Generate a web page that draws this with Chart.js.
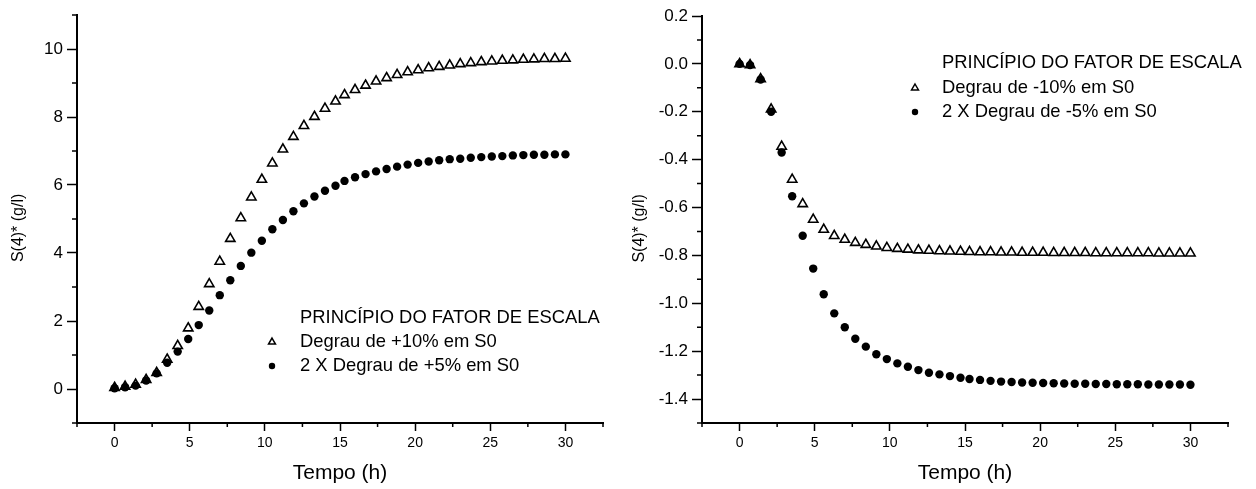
<!DOCTYPE html>
<html>
<head>
<meta charset="utf-8">
<script src="https://cdn.jsdelivr.net/npm/chart.js@4/dist/chart.umd.min.js"></script>
<style>
  html, body { margin: 0; padding: 0; background: #fff; }
  #wrap { display: flex; width: 1256px; height: 489px; }
  .box { position: relative; width: 628px; height: 489px; }
</style>
</head>
<body>
<div id="wrap">
  <div class="box"><canvas id="left"></canvas></div>
  <div class="box"><canvas id="right"></canvas></div>
</div>
<script>
// tempos de amostragem (h)
const times = [0, 0.7, 1.4, 2.1, 2.8, 3.5, 4.2, 4.9, 5.6, 6.3, 7.0, 7.7, 8.4, 9.1, 9.8,
  10.5, 11.2, 11.9, 12.6, 13.3, 14.0, 14.7, 15.3, 16.0, 16.7, 17.4, 18.1, 18.8, 19.5,
  20.2, 20.9, 21.6, 22.3, 23.0, 23.7, 24.4, 25.1, 25.8, 26.5, 27.2, 27.9, 28.6, 29.3, 30.0];

// grafico da esquerda: degrau positivo
const leftTri = [0.04, 0.07, 0.13, 0.27, 0.48, 0.87, 1.27, 1.79, 2.42, 3.09, 3.75, 4.42,
  5.03, 5.64, 6.16, 6.64, 7.05, 7.42, 7.74, 8.01, 8.25, 8.46, 8.65, 8.80, 8.93, 9.05,
  9.15, 9.24, 9.32, 9.38, 9.44, 9.48, 9.52, 9.56, 9.59, 9.62, 9.64, 9.66, 9.67, 9.69,
  9.70, 9.71, 9.71, 9.72];
const leftDot = [0.02, 0.05, 0.10, 0.25, 0.46, 0.77, 1.10, 1.47, 1.88, 2.31, 2.76, 3.20,
  3.62, 4.01, 4.36, 4.70, 4.97, 5.23, 5.46, 5.66, 5.83, 5.98, 6.12, 6.23, 6.32, 6.40,
  6.47, 6.54, 6.60, 6.65, 6.69, 6.73, 6.76, 6.77, 6.80, 6.82, 6.84, 6.85, 6.87, 6.88,
  6.89, 6.89, 6.90, 6.90];

// grafico da direita: degrau negativo
const rightTri = [0.0, -0.005, -0.063, -0.19, -0.345, -0.483, -0.585, -0.65, -0.692,
  -0.718, -0.734, -0.747, -0.755, -0.762, -0.768, -0.772, -0.775, -0.778, -0.780,
  -0.782, -0.783, -0.784, -0.785, -0.786, -0.786, -0.787, -0.787, -0.788, -0.788,
  -0.788, -0.789, -0.789, -0.789, -0.789, -0.790, -0.790, -0.790, -0.790, -0.790,
  -0.790, -0.791, -0.791, -0.791, -0.791];
const rightDot = [0.0, -0.005, -0.065, -0.20, -0.37, -0.553, -0.718, -0.855, -0.962,
  -1.042, -1.10, -1.148, -1.181, -1.213, -1.233, -1.251, -1.265, -1.279, -1.29, -1.297,
  -1.304, -1.311, -1.316, -1.320, -1.324, -1.327, -1.329, -1.331, -1.332, -1.333,
  -1.334, -1.335, -1.336, -1.336, -1.337, -1.337, -1.338, -1.338, -1.338, -1.339,
  -1.339, -1.339, -1.339, -1.340];

// marcas dos eixos
const xTicks = [0, 5, 10, 15, 20, 25, 30];
const xMinor = [-2.5, 2.5, 7.5, 12.5, 17.5, 22.5, 27.5, 32.5];
const leftYTicks = [0, 2, 4, 6, 8, 10];
const leftYMinor = [-1, 1, 3, 5, 7, 9, 11];
const rightYTicks = [0.2, 0.0, -0.2, -0.4, -0.6, -0.8, -1.0, -1.2, -1.4];
const rightYMinor = [0.1, -0.1, -0.3, -0.5, -0.7, -0.9, -1.1, -1.3, -1.5];

const legendTitle = 'PRINCÍPIO DO FATOR DE ESCALA';
const FONT = '"Liberation Sans", Arial, Helvetica, sans-serif';

// marcas secundarias (menores) nos eixos
const minorTicks = {
  id: 'minorTicks',
  afterDraw(chart, args, o) {
    const ctx = chart.ctx, sx = chart.scales.x, sy = chart.scales.y;
    ctx.save();
    ctx.strokeStyle = '#000';
    ctx.lineWidth = 1.5;
    ctx.beginPath();
    o.x.forEach(v => {
      const px = sx.getPixelForValue(v);
      ctx.moveTo(px, sx.top);
      ctx.lineTo(px, sx.top + 4);
    });
    o.y.forEach(v => {
      const py = sy.getPixelForValue(v);
      ctx.moveTo(sy.right, py);
      ctx.lineTo(sy.right - 5, py);
    });
    ctx.stroke();
    ctx.restore();
  }
};

// legenda desenhada dentro da area do grafico
const boxLegend = {
  id: 'boxLegend',
  afterDraw(chart, args, o) {
    const ctx = chart.ctx;
    ctx.save();
    ctx.fillStyle = '#000';
    ctx.strokeStyle = '#000';
    ctx.font = '18.4px ' + FONT;
    ctx.textBaseline = 'middle';
    ctx.textAlign = 'left';
    ctx.fillText(o.title, o.textX, o.titleY);
    chart.data.datasets.forEach((ds, i) => {
      const yy = o.rowY[i];
      ctx.fillText(ds.label, o.textX, yy);
      ctx.beginPath();
      if (ds.pointStyle === 'triangle') {
        const r = 4;
        ctx.lineWidth = 1.5;
        ctx.moveTo(o.symX, yy - r);
        ctx.lineTo(o.symX + r * 0.866, yy + r / 2);
        ctx.lineTo(o.symX - r * 0.866, yy + r / 2);
        ctx.closePath();
        ctx.stroke();
      } else {
        ctx.arc(o.symX, yy, 3.2, 0, Math.PI * 2);
        ctx.fill();
      }
    });
    ctx.restore();
  }
};

function pts(arr) {
  return times.map((t, i) => ({ x: t, y: arr[i] }));
}

function makeChart(id, cfg) {
  return new Chart(document.getElementById(id), {
    type: 'scatter',
    data: {
      datasets: [
        {
          label: cfg.labels[0],
          data: pts(cfg.tri),
          pointStyle: 'triangle',
          pointRadius: 5.4,
          pointBorderWidth: 1.6,
          pointBorderColor: '#000',
          pointBackgroundColor: 'rgba(0,0,0,0)'
        },
        {
          label: cfg.labels[1],
          data: pts(cfg.dot),
          pointStyle: 'circle',
          pointRadius: 4.2,
          pointBorderWidth: 0,
          pointBackgroundColor: '#000'
        }
      ]
    },
    options: {
      responsive: false,
      animation: false,
      layout: { padding: cfg.padding },
      plugins: {
        legend: { display: false },
        tooltip: { enabled: false },
        minorTicks: { x: xMinor, y: cfg.yMinor },
        boxLegend: cfg.legend
      },
      scales: {
        x: {
          type: 'linear',
          min: -2.5,
          max: 32.5,
          afterBuildTicks: s => { s.ticks = xTicks.map(v => ({ value: v })); },
          afterFit: s => { s.height = 66; },
          grid: { drawOnChartArea: false, drawTicks: true, tickLength: 8, tickColor: '#000', tickWidth: 1.5 },
          border: { color: '#000', width: 2 },
          ticks: { color: '#000', font: { size: 14, family: FONT }, padding: 4, maxRotation: 0 },
          title: { display: true, text: 'Tempo (h)', color: '#000', font: { size: 21, family: FONT }, padding: { top: 0, bottom: 3 } }
        },
        y: {
          type: 'linear',
          min: cfg.yMin,
          max: cfg.yMax,
          afterBuildTicks: s => { s.ticks = cfg.yTicks.map(v => ({ value: v })); },
          afterFit: s => { s.width = cfg.yWidth; },
          grid: { drawOnChartArea: false, drawTicks: true, tickLength: 10, tickColor: '#000', tickWidth: 1.5 },
          border: { color: '#000', width: 2 },
          ticks: { color: '#000', font: { size: 17, family: FONT }, padding: 4, callback: cfg.fmt },
          // espacos finais baixam o titulo para a altura do original
          title: { display: true, text: 'S(4)* (g/l)    ', color: '#000', font: { size: 16, family: FONT }, padding: { top: cfg.titlePad, bottom: 0 } }
        }
      }
    },
    plugins: [minorTicks, boxLegend]
  });
}

const left = document.getElementById('left');
left.width = 628; left.height = 489;
const right = document.getElementById('right');
right.width = 628; right.height = 489;

makeChart('left', {
  labels: ['Degrau de +10% em S0', '2 X Degrau de +5% em S0'],
  tri: leftTri,
  dot: leftDot,
  yMin: -1, yMax: 11,
  yTicks: leftYTicks,
  yMinor: leftYMinor,
  fmt: v => String(v),
  yWidth: 77,
  titlePad: 9,
  padding: { top: 15, right: 25, left: 0, bottom: 0 },
  legend: { title: legendTitle, textX: 300, titleY: 318, symX: 272, rowY: [342, 366] }
});

makeChart('right', {
  labels: ['Degrau de -10% em S0', '2 X Degrau de -5% em S0'],
  tri: rightTri,
  dot: rightDot,
  yMin: -1.5, yMax: 0.2,
  yTicks: rightYTicks,
  yMinor: rightYMinor,
  fmt: v => v.toFixed(1),
  yWidth: 74,
  titlePad: 2,
  padding: { top: 16, right: 28, left: 0, bottom: 0 },
  legend: { title: legendTitle, textX: 314, titleY: 63, symX: 287, rowY: [88, 112] }
});
</script>
</body>
</html>
